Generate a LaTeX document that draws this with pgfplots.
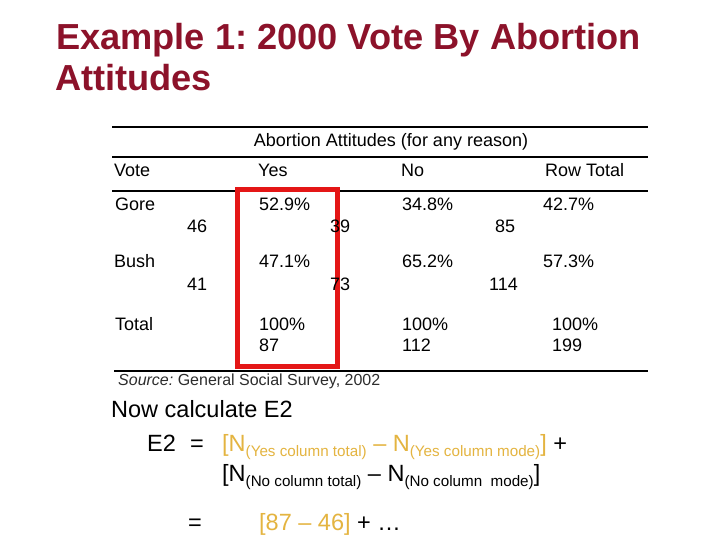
\documentclass[border=0pt]{standalone}
\usepackage{pgfplots}
\pgfplotsset{compat=1.18}
\usepackage{pgfplotstable}
\usepackage{fontspec}
\setmainfont{Liberation Sans}
\frenchspacing
\definecolor{titlered}{RGB}{140,18,42}
\definecolor{gold}{RGB}{228,180,64}
\definecolor{boxred}{RGB}{228,22,22}
\definecolor{srcgray}{RGB}{45,45,45}
\newcommand{\tfont}{\fontsize{18bp}{21bp}\selectfont}
\newcommand{\bfont}{\fontsize{23.5bp}{27bp}\selectfont}
\newcommand{\sfont}{\fontsize{15.2bp}{18bp}\selectfont}
\newcommand{\sub}[1]{\raisebox{-5bp}{\sfont #1}}

\pgfplotstableread{
x y v
259 211 52.9
402 211 34.8
543 211 42.7
259 268 47.1
402 268 65.2
543 268 57.3
259 330 100
402 330 100
552 330 100
}\pcts
\pgfplotstableread{
x y v
187 233 46
330 233 39
495 233 85
187 290 41
330 290 73
489 290 114
259 351 87
402 351 112
552 351 199
}\counts

\begin{document}
\begin{tikzpicture}
\begin{axis}[
  width=10in, height=7.5in, scale only axis,
  xmin=0, xmax=720, ymin=0, ymax=540, y dir=reverse,
  hide axis, clip=false,
  axis background/.style={fill=white},
]
% title
\node[anchor=base west, inner sep=0pt, text=titlered, font=\fontsize{36.2bp}{40bp}\selectfont\bfseries] at (axis cs:56,50) {Example 1: 2000 Vote By Abortion};
\node[anchor=base west, inner sep=0pt, text=titlered, font=\fontsize{36.2bp}{40bp}\selectfont\bfseries] at (axis cs:55,91) {Attitudes};

% rules
\addplot[black, line width=1.6bp, mark=none] coordinates {(112,127) (648,127)};
\addplot[black, line width=1.6bp, mark=none] coordinates {(112,157) (648,157)};
\addplot[black, line width=1.6bp, mark=none] coordinates {(112,191) (648,191)};
\addplot[black, line width=1.6bp, mark=none] coordinates {(114,371) (648,371)};

% headers
\node[anchor=base, inner sep=0pt, font=\tfont] at (axis cs:391,147) {Abortion Attitudes (for any reason)};
\node[anchor=base west, inner sep=0pt, font=\tfont] at (axis cs:114,177) {Vote};
\node[anchor=base west, inner sep=0pt, font=\tfont] at (axis cs:258,177) {Yes};
\node[anchor=base west, inner sep=0pt, font=\tfont] at (axis cs:401,177) {No};
\node[anchor=base west, inner sep=0pt, font=\tfont] at (axis cs:545,177) {Row Total};
\node[anchor=base west, inner sep=0pt, font=\tfont] at (axis cs:115,211) {Gore};
\node[anchor=base west, inner sep=0pt, font=\tfont] at (axis cs:114,268) {Bush};
\node[anchor=base west, inner sep=0pt, font=\tfont] at (axis cs:115,330) {Total};

% cell values
\addplot[draw=none, mark=none, point meta=explicit symbolic,
  nodes near coords={\pgfplotspointmeta\%},
  every node near coord/.style={anchor=base west, inner sep=0pt, font=\tfont}]
  table[x=x, y=y, meta=v] {\pcts};
\addplot[draw=none, mark=none, point meta=explicit symbolic,
  nodes near coords={\pgfplotspointmeta},
  every node near coord/.style={anchor=base west, inner sep=0pt, font=\tfont}]
  table[x=x, y=y, meta=v] {\counts};

% red box
\addplot[boxred, line width=5bp, mark=none, line join=miter, line cap=rect]
  coordinates {(237,190) (337,190) (337,366) (237,366) (237,190)};

% source
\node[anchor=base west, inner sep=0pt, text=srcgray, font=\fontsize{16bp}{19bp}\selectfont] at (axis cs:118,385) {\textit{Source:} General Social Survey, 2002};

% calculation
\node[anchor=base west, inner sep=0pt, font=\bfont] at (axis cs:111,417) {Now calculate E2};
\node[anchor=base west, inner sep=0pt, font=\bfont] at (axis cs:147,451) {E2};
\node[anchor=base west, inner sep=0pt, font=\bfont] at (axis cs:190,451) {=};
\node[anchor=base west, inner sep=0pt, font=\bfont] at (axis cs:222,451) {\textcolor{gold}{[N\sub{(Yes column total)} -- N\sub{(Yes column mode)}]} +};
\node[anchor=base west, inner sep=0pt, font=\bfont] at (axis cs:222,481) {[N\sub{(No column total)} -- N\sub{(No column\ \ mode)}]};
\node[anchor=base west, inner sep=0pt, font=\bfont] at (axis cs:188,530) {=};
\node[anchor=base west, inner sep=0pt, font=\bfont] at (axis cs:259,530) {\textcolor{gold}{[87 -- 46]} + \dots};
\end{axis}
\end{tikzpicture}
\end{document}
